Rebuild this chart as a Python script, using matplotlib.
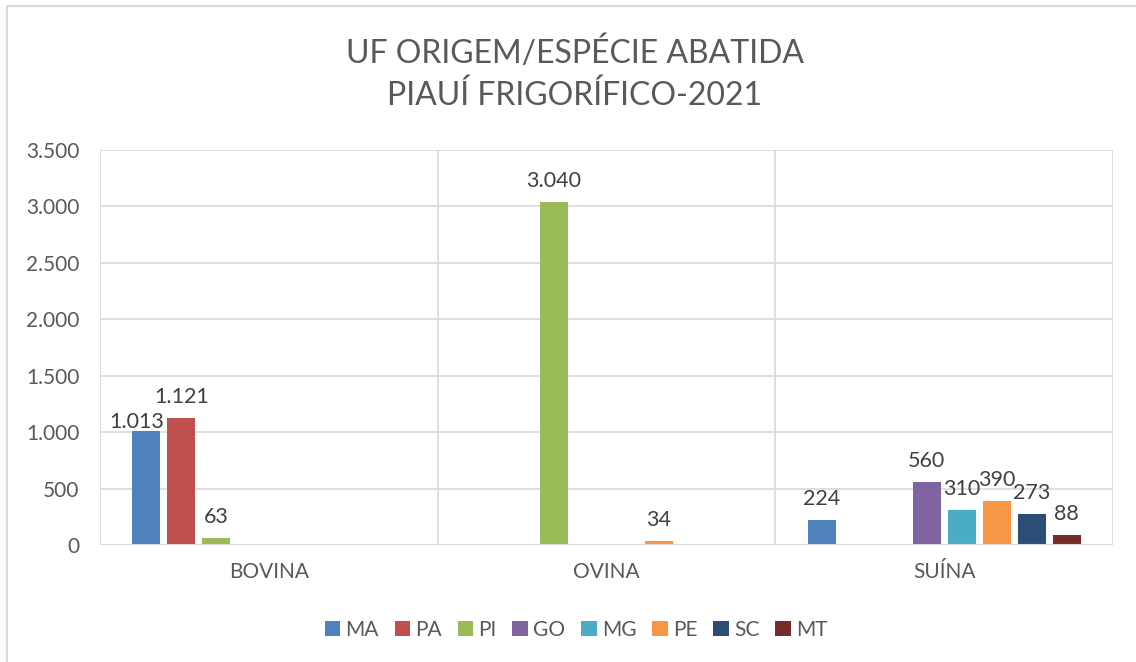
import matplotlib
matplotlib.use("Agg")
import matplotlib.pyplot as plt
from matplotlib.patches import Rectangle
import numpy as np

categories = ["BOVINA", "OVINA", "SUÍNA"]
series = ["MA", "PA", "PI", "GO", "MG", "PE", "SC", "MT"]
values_MA = [1013, 0, 224]
values_PA = [1121, 0, 0]
values_PI = [63, 3040, 0]
values_GO = [0, 0, 560]
values_MG = [0, 0, 310]
values_PE = [0, 34, 390]
values_SC = [0, 0, 273]
values_MT = [0, 0, 88]
yticks = [0, 500, 1000, 1500, 2000, 2500, 3000, 3500]
title = "UF ORIGEM/ESPÉCIE ABATIDA\nPIAUÍ FRIGORÍFICO-2021"

all_values = [values_MA, values_PA, values_PI, values_GO,
              values_MG, values_PE, values_SC, values_MT]
colors = ["#4F81BD", "#C0504D", "#9BBB59", "#8064A2",
          "#4BACC6", "#F79646", "#2C4D75", "#772C2A"]

# label nudges (points) to avoid overlapping labels, as in the reference
nudges = {("MA", 0): (-7, -1)}

plt.rcParams['font.family'] = ['Lato', 'DejaVu Sans']

W, H = 1136, 662
fig = plt.figure(figsize=(W / 100, H / 100), dpi=100)

# chart border (cropped at right/bottom)
fig.add_artist(Rectangle((7 / W, -0.05), 1.2, (1 - 6 / H) + 0.05,
                         transform=fig.transFigure, fill=False,
                         edgecolor="#D9D9D9", linewidth=1.5))

ax = fig.add_axes([100 / W, 1 - 545 / H, (1113 - 100) / W, (545 - 150) / H])

step = 35 / 338
width = 28 / 338
x = np.arange(len(categories))
for j, (name, vals, c) in enumerate(zip(series, all_values, colors)):
    pos = x + (j - 3.5) * step
    bars = ax.bar(pos, vals, width=width, color=c, label=name, zorder=3)
    for i, (b, v) in enumerate(zip(bars, vals)):
        if v:
            dx, dy = nudges.get((name, i), (0, 8))
            ax.annotate(f"{v:,}".replace(",", "."),
                        (b.get_x() + b.get_width() / 2, v),
                        xytext=(dx, dy), textcoords="offset points",
                        ha="center", va="bottom", fontsize=15.5,
                        color="#404040", zorder=5)

ax.set_xlim(-0.5, len(categories) - 0.5)
ax.set_ylim(0, 3500)
ax.set_yticks(yticks)
ax.set_yticklabels([f"{t:,}".replace(",", ".") for t in yticks])
ax.set_xticks(x)
ax.set_xticklabels(categories)
ax.tick_params(axis="both", length=0, labelsize=15, labelcolor="#595959")
ax.tick_params(axis="y", pad=15)
ax.tick_params(axis="x", pad=12)

ax.grid(axis="y", color="#D9D9D9", linewidth=1.2, zorder=0)
for b in np.arange(-0.5, len(categories) + 0.5):
    ax.axvline(b, color="#D9D9D9", linewidth=1.2, zorder=0)
for s in ax.spines.values():
    s.set_visible(False)
ax.axhline(0, color="#D9D9D9", linewidth=1.5, zorder=4)

fig.text(0.506, 1 - 74 / H, title, ha="center", va="center",
         fontsize=23, color="#595959", linespacing=1.45)

fig.legend(loc="center", bbox_to_anchor=(576 / W, 1 - 630 / H),
           ncol=8, frameon=False, fontsize=15, handlelength=0.75,
           handleheight=0.75, handletextpad=0.25, columnspacing=0.75,
           labelcolor="#595959")

fig.savefig("out.png", dpi=100, facecolor="white")
